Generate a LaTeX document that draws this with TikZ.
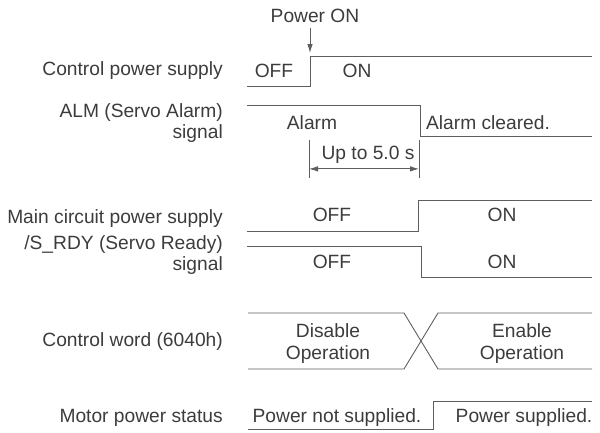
\documentclass[tikz,border=0pt]{standalone}
\usepackage{fontspec}
\setmainfont{Liberation Sans}
\usetikzlibrary{arrows.meta,calc,positioning}
\definecolor{linegray}{HTML}{5E5E5E}
\definecolor{textgray}{HTML}{3C3C3C}
\tikzset{
  wave/.style={draw=linegray, line width=0.9pt},
  lbl/.style={text=textgray, font=\fontsize{19.2}{22.5}\selectfont, inner sep=0pt, align=center},
  sig/.style={lbl, anchor=east, align=right, font=\fontsize{19.2}{21}\selectfont},
}

\begin{document}
\begin{tikzpicture}[x=1pt,y=-1pt,>={Latex[length=9pt,width=5.5pt]}]
  \useasboundingbox (0,0) rectangle (600,432);
  % signal names
  \node[sig] (cps)  at (223,71)    {Control power supply};
  \node[sig] (alm)  at (223,123.5) {ALM (Servo Alarm)\\signal};
  \node[sig] (mps)  at (223,219)   {Main circuit power supply};
  \node[sig] (srdy) at (223,255)   {/S\_RDY (Servo Ready)\\signal};
  \node[sig] (cw)   at (223,342)   {Control word (6040h)};
  \node[sig] (mot)  at (223,418)   {Motor power status};
  % control power supply
  \coordinate (c0) at (247,86);
  \coordinate (c1) at (310,86);
  \coordinate (c2) at (310,56);
  \coordinate (c3) at (592,56);
  \draw[wave] (c0) -- (c1) -- (c2) -- (c3);
  \node[lbl] (coff) at (274,71) {OFF};
  \node[lbl] (con)  at (357,71) {ON};
  % power on
  \node[lbl] (pon) at (315,16) {Power ON};
  \coordinate (ptop) at (310,28);
  \coordinate (ptip) at (310,53);
  \draw[wave,->] (ptop) -- (ptip);
  % alarm
  \coordinate (a0) at (247,105);
  \coordinate (a1) at (420,105);
  \coordinate (a2) at (420,136);
  \coordinate (a3) at (592,136);
  \draw[wave] (a0) -- (a1) -- (a2) -- (a3);
  \node[lbl] (aon)  at (312,123) {Alarm};
  \node[lbl] (aoff) at (488,123) {Alarm cleared.};
  % up to 5.0 s
  \coordinate (d0) at (309,140);
  \coordinate (d1) at (309,178);
  \coordinate (d2) at (419,140);
  \coordinate (d3) at (419,178);
  \draw[wave] (d0) -- (d1);
  \draw[wave] (d2) -- (d3);
  \draw[wave,<->] ($(d0)!0.76!(d1)$) -- ($(d2)!0.76!(d3)$);
  \node[lbl] (dt) at (368,155) {Up to 5.0 s};
  % main circuit power supply
  \coordinate (m0) at (247,231);
  \coordinate (m1) at (418,231);
  \coordinate (m2) at (418,200);
  \coordinate (m3) at (592,200);
  \draw[wave] (m0) -- (m1) -- (m2) -- (m3);
  \node[lbl] (moff) at (332,215) {OFF};
  \node[lbl] (mon)  at (502,215) {ON};
  % servo ready
  \coordinate (s0) at (247,246);
  \coordinate (s1) at (421,246);
  \coordinate (s2) at (421,277);
  \coordinate (s3) at (592,277);
  \draw[wave] (s0) -- (s1) -- (s2) -- (s3);
  \node[lbl] (soff) at (332,262) {OFF};
  \node[lbl] (son)  at (502,262) {ON};
  % control word
  \coordinate (w0) at (248,313);
  \coordinate (w1) at (404,313);
  \coordinate (w2) at (438,369);
  \coordinate (w3) at (592,369);
  \coordinate (w4) at (248,369);
  \coordinate (w5) at (404,369);
  \coordinate (w6) at (438,313);
  \coordinate (w7) at (592,313);
  \draw[wave] (w0) -- (w1) -- (w2) -- (w3);
  \draw[wave] (w4) -- (w5) -- (w6) -- (w7);
  \node[lbl] (wdis) at (328,343.5) {Disable\\Operation};
  \node[lbl] (wen)  at (522,343.5) {Enable\\Operation};
  % motor power
  \coordinate (p0) at (248,429);
  \coordinate (p1) at (433,429);
  \coordinate (p2) at (433,401);
  \coordinate (p3) at (592,401);
  \draw[wave] (p0) -- (p1) -- (p2) -- (p3);
  \node[lbl] (pnot) at (337,418) {Power not supplied.};
  \node[lbl] (psup) at (524,418) {Power supplied.};
\end{tikzpicture}
\end{document}
